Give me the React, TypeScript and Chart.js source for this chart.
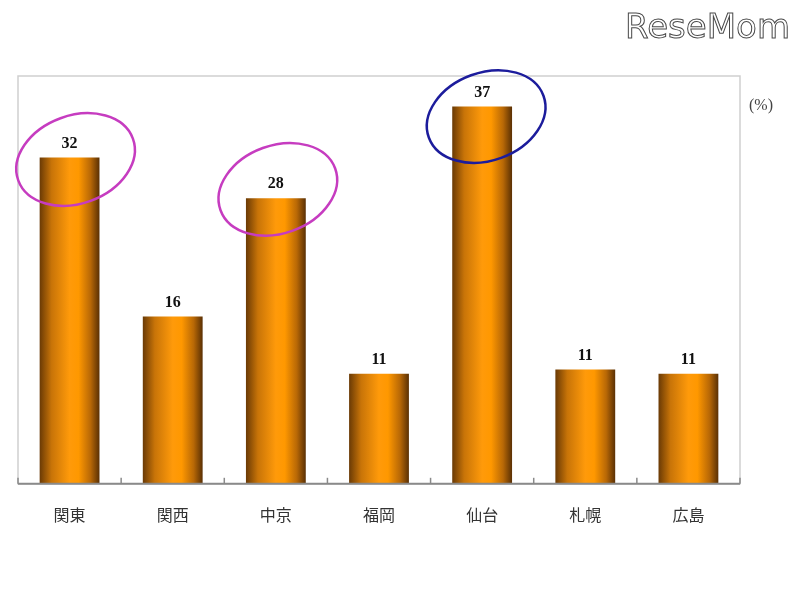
import React, { useEffect, useRef } from "react";
import { Chart, registerables } from "chart.js";

Chart.register(...registerables);

const categories = ["関東", "関西", "中京", "福岡", "仙台", "札幌", "広島"];
const values = [32, 16.4, 28, 10.8, 37, 11.2, 10.8];
const valueLabels = ["32", "16", "28", "11", "37", "11", "11"];
const circled = [
  { index: 0, color: "#c63cc0", dx: 6, dy: 2 },
  { index: 2, color: "#c63cc0", dx: 2, dy: -9 },
  { index: 4, color: "#1c1c9c", dx: 4, dy: 10 },
];
const unitLabel = "(%)";
const watermark = "ReseMom";
const yMax = 40;
const BAR_PCT = 0.58;

const overlayPlugin = {
  id: "overlay",
  beforeDraw(chart: any) {
    const { ctx, chartArea } = chart;
    ctx.save();
    ctx.fillStyle = "#ffffff";
    ctx.fillRect(0, 0, chart.width, chart.height);
    // frame
    ctx.strokeStyle = "#cfcfcf";
    ctx.lineWidth = 1.5;
    ctx.strokeRect(chartArea.left, chartArea.top, chartArea.right - chartArea.left, chartArea.bottom - chartArea.top);
    // watermark
    ctx.font = "34px 'DejaVu Sans'";
    ctx.textAlign = "right";
    ctx.textBaseline = "alphabetic";
    ctx.lineWidth = 1;
    ctx.strokeStyle = "#4a4a4a";
    ctx.fillStyle = "#ffffff";
    ctx.fillText(watermark, 790, 38);
    ctx.strokeText(watermark, 790, 38);
    // unit
    ctx.font = "16px 'Liberation Serif'";
    ctx.fillStyle = "#444";
    ctx.textAlign = "left";
    ctx.textBaseline = "middle";
    ctx.fillText(unitLabel, 749, 106);
    ctx.restore();
  },
  afterDatasetsDraw(chart: any) {
    const { ctx, chartArea } = chart;
    const meta = chart.getDatasetMeta(0);
    ctx.save();
    // bottom axis line and ticks
    ctx.strokeStyle = "#8a8a8a";
    ctx.lineWidth = 2;
    ctx.beginPath();
    ctx.moveTo(chartArea.left, chartArea.bottom);
    ctx.lineTo(chartArea.right, chartArea.bottom);
    ctx.stroke();
    const step = (chartArea.right - chartArea.left) / categories.length;
    ctx.lineWidth = 1.5;
    for (let i = 0; i <= categories.length; i++) {
      const x = chartArea.left + i * step;
      ctx.beginPath();
      ctx.moveTo(x, chartArea.bottom);
      ctx.lineTo(x, chartArea.bottom - 6);
      ctx.stroke();
    }
    // value labels
    ctx.font = "bold 16px 'Liberation Serif'";
    ctx.fillStyle = "#111";
    ctx.textAlign = "center";
    ctx.textBaseline = "bottom";
    meta.data.forEach((bar: any, i: number) => {
      ctx.fillText(valueLabels[i], bar.x, bar.y - 6);
    });
    // ellipses
    circled.forEach((c) => {
      const bar = meta.data[c.index];
      ctx.beginPath();
      ctx.strokeStyle = c.color;
      ctx.lineWidth = 2.5;
      ctx.ellipse(bar.x + c.dx, bar.y + c.dy, 61, 44, (-20 * Math.PI) / 180, 0, Math.PI * 2);
      ctx.stroke();
    });
    ctx.restore();
  },
};

function barGradient(context: any) {
  const chart = context.chart;
  const xs = chart.scales.x;
  if (!xs || !chart.chartArea) return "#ff9900";
  const cx = xs.getPixelForValue(context.dataIndex);
  const w = ((chart.chartArea.right - chart.chartArea.left) / categories.length) * BAR_PCT;
  const g = chart.ctx.createLinearGradient(cx - w / 2, 0, cx + w / 2, 0);
  g.addColorStop(0, "#6a3a05");
  g.addColorStop(0.2, "#c87408");
  g.addColorStop(0.5, "#ff9a0a");
  g.addColorStop(0.65, "#ff9800");
  g.addColorStop(0.85, "#b86806");
  g.addColorStop(1, "#5a3004");
  return g;
}

export default function App() {
  const ref = useRef<HTMLCanvasElement>(null);
  useEffect(() => {
    if (!ref.current) return;
    const chart = new Chart(ref.current, {
      type: "bar",
      data: {
        labels: categories,
        datasets: [
          {
            data: values,
            backgroundColor: barGradient,
            borderWidth: 0,
            barPercentage: BAR_PCT,
            categoryPercentage: 1,
          },
        ],
      },
      options: {
        responsive: false,
        animation: false,
        layout: { padding: { left: 18, right: 60, top: 76, bottom: 53 } },
        plugins: { legend: { display: false }, tooltip: { enabled: false } },
        scales: {
          x: {
            grid: { display: false, drawTicks: false },
            border: { display: false },
            ticks: {
              padding: 22,
              color: "#333",
              font: { family: "'Noto Sans CJK JP'", size: 16 },
            },
          },
          y: {
            display: false,
            min: 0,
            max: yMax,
          },
        },
      },
      plugins: [overlayPlugin],
    });
    return () => chart.destroy();
  }, []);
  return (
    <div style={{ position: "fixed", left: 0, top: 0, width: 800, height: 600, background: "#fff" }}>
      <canvas ref={ref} width={800} height={600} />
    </div>
  );
}
